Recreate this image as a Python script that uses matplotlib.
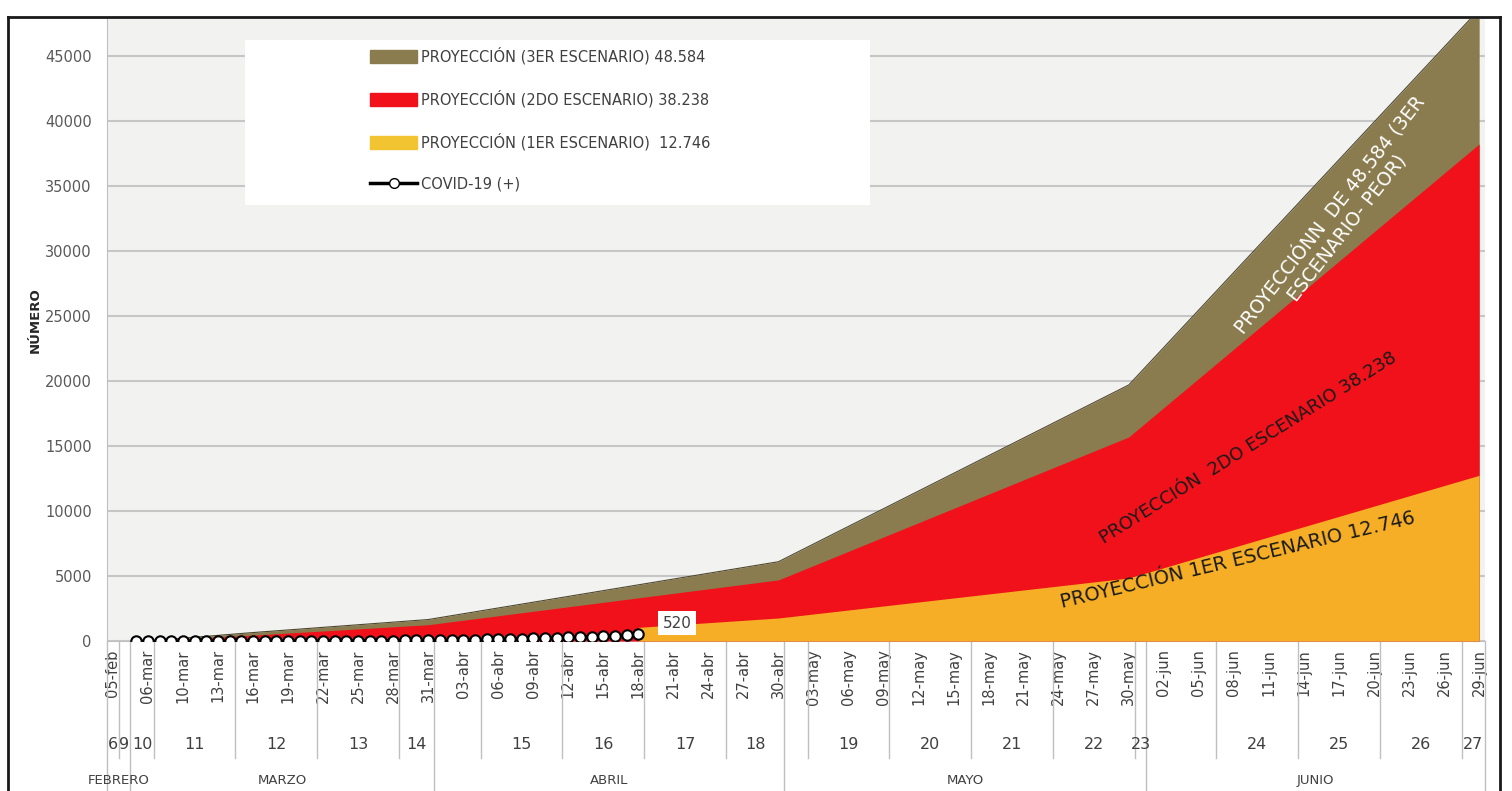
import matplotlib.pyplot as plt
from matplotlib.lines import Line2D
from matplotlib.patches import Patch, Rectangle
import pandas as pd

# categorias del eje x (fechas), semanas epidemiologicas y meses
fechas_previas = ['2020-02-05', '2020-02-26', '2020-03-03', '2020-03-06', '2020-03-08', '2020-03-09']
fechas = pd.to_datetime(fechas_previas).append(pd.date_range('2020-03-10', '2020-06-29'))
meses_abrev = {2: 'feb', 3: 'mar', 4: 'abr', 5: 'may', 6: 'jun'}
meses_nombre = {2: 'FEBRERO', 3: 'MARZO', 4: 'ABRIL', 5: 'MAYO', 6: 'JUNIO'}

# casos confirmados COVID-19 (+), diarios desde 03-mar hasta 18-abr
covid_inicio = '03-mar'
covid_casos = [0, 0, 0, 0, 0, 0, 0, 0, 0,
               1, 1, 2, 3, 4, 5, 7, 9, 12, 15, 18, 22, 27, 33, 40, 48, 56, 65, 75,
               88, 102, 118, 135, 155, 176, 198, 222, 250, 278, 310, 345, 380, 420,
               470, 520]

# proyecciones (vertices de cada area)
proy_fechas = ['06-mar', '16-mar', '31-mar', '30-abr', '30-may', '29-jun']
esc3 = [0, 650, 1650, 6100, 19700, 48584]
esc2 = [0, 450, 1250, 4700, 15700, 38238]
esc1_fechas = ['18-abr', '30-abr', '30-may', '29-jun']
esc1 = [1050, 1770, 4850, 12746]

col3 = '#8a7c4e'
col2 = '#f0111a'
col1 = '#f5ae25'
gris = '#bfbfbf'
texto = '#404040'
fuente_estrecha = ['Liberation Sans Narrow', 'DejaVu Sans']

etiquetas = [f"{d.day:02d}-{meses_abrev[d.month]}" for d in fechas]
pos = {e: i for i, e in enumerate(etiquetas)}
semanas = [(d + pd.Timedelta(days=1)).isocalendar()[1] for d in fechas]
n = len(etiquetas)

fig = plt.figure(figsize=(15.12, 7.91), dpi=100)
ax = fig.add_axes([107 / 1512, 150 / 791, 1378 / 1512, 622 / 791])
ax.set_facecolor('#f2f2f0')
ax.set_xlim(-0.5, n - 0.5)
ax.set_ylim(0, 47850)

# areas superpuestas
x3 = [pos[f] for f in proy_fechas]
ax.fill_between(x3, esc3, color=col3, lw=0, zorder=2)
ax.plot(x3, esc3, color='#4f4830', lw=0.8, zorder=2)
ax.fill_between(x3, esc2, color=col2, lw=0, zorder=3)
x1 = [pos[f] for f in esc1_fechas]
ax.fill_between(x1, esc1, color=col1, lw=0, zorder=4)

# serie real
xc = list(range(pos[covid_inicio], pos[covid_inicio] + len(covid_casos)))
ax.plot(xc, covid_casos, color='black', lw=2, marker='o', ms=7.5,
        mfc='white', mec='black', mew=1.5, zorder=6)
ax.annotate(str(covid_casos[-1]), (xc[-1], covid_casos[-1]), xytext=(28, 8),
            textcoords='offset points', ha='center', va='center', fontsize=11,
            color=texto, zorder=7,
            bbox=dict(boxstyle='square,pad=0.3', fc='white', ec='none'))

# textos sobre las areas
ax.text(96.3, 6230, 'PROYECCIÓN 1ER ESCENARIO 12.746', rotation=13.5,
        rotation_mode='anchor', ha='center', va='center', fontsize=14,
        color='#1a1a1a', zorder=8)
ax.text(97.2, 14850, 'PROYECCIÓN  2DO ESCENARIO 38.238', rotation=32,
        rotation_mode='anchor', ha='center', va='center', fontsize=13,
        color='#1a1a1a', zorder=8)
ax.text(104.9, 32300, 'PROYECCIÓNN  DE 48.584 (3ER\nESCENARIO- PEOR)', rotation=52,
        rotation_mode='anchor', ha='center', va='center', ma='center',
        fontsize=13.5, linespacing=1.1, color='white', zorder=8)

# eje y
ax.set_yticks(range(0, 45001, 5000))
ax.yaxis.grid(True, color='#c6c6c6', lw=1.5)
ax.set_axisbelow(True)
ax.tick_params(axis='y', length=0, pad=11, labelsize=10.5, labelcolor='#595959')
fig.text(35 / 1512, 1 - 320 / 791, 'NÚMERO', rotation=90, ha='center', va='center',
         fontsize=9.5, fontweight='bold', color='#262626')

# eje x: fechas cada 3 categorias
ax.set_xticks(range(0, n, 3))
ax.set_xticklabels(etiquetas[::3], rotation=90, fontsize=10.5, color=texto,
                   family=fuente_estrecha)
ax.tick_params(axis='x', length=0, pad=6)
for s in ['top', 'right']:
    ax.spines[s].set_visible(False)
for s in ['left', 'bottom']:
    ax.spines[s].set_color(gris)

# eje x: semanas y meses
tr = ax.get_xaxis_transform()
grupos = []
inicio = 0
for i in range(1, n + 1):
    if i == n or semanas[i] != semanas[inicio] or fechas[i].month != fechas[inicio].month:
        grupos.append((inicio, i - 1))
        inicio = i
sem_prev = None
for a, b in grupos:
    if semanas[a] != sem_prev:
        ax.text((a + b) / 2, -0.167, str(semanas[a]), transform=tr, ha='center',
                va='center', fontsize=11.5, color=texto, family=fuente_estrecha)
    sem_prev = semanas[a]
    cambio_mes = a == 0 or fechas[a].month != fechas[a - 1].month
    y_fin = -0.26 if cambio_mes else -0.188
    ax.plot([a - 0.5, a - 0.5], [0, y_fin], transform=tr, color=gris, lw=1,
            clip_on=False)
ax.plot([n - 0.5, n - 0.5], [0, -0.26], transform=tr, color=gris, lw=1, clip_on=False)

for m in sorted(set(f.month for f in fechas)):
    idx = [i for i, f in enumerate(fechas) if f.month == m]
    ax.text((idx[0] + idx[-1]) / 2, -0.224, meses_nombre[m], transform=tr,
            ha='center', va='center', fontsize=9.5, color=texto,
            family=fuente_estrecha)

# leyenda sobre recuadro blanco
ax.add_patch(Rectangle((0.100, 0.701), 0.454, 0.265, transform=ax.transAxes,
                       fc='white', ec='none', zorder=5))
handles = [Patch(color=col3), Patch(color='#f0111a'), Patch(color='#f3c431'),
           Line2D([], [], color='black', lw=2.5, marker='o', ms=7, mfc='white',
                  mec='black')]
labels = ['PROYECCIÓN (3ER ESCENARIO) 48.584', 'PROYECCIÓN (2DO ESCENARIO) 38.238',
          'PROYECCIÓN (1ER ESCENARIO)  12.746', 'COVID-19 (+)']
leg = ax.legend(handles, labels, loc='upper left', bbox_to_anchor=(0.191, 0.955),
                frameon=False, fontsize=10.5, labelspacing=1.75, handlelength=3.2,
                handleheight=0.9, handletextpad=0.3, borderpad=0, borderaxespad=0)
leg.set_zorder(9)
for t in leg.get_texts():
    t.set_color(texto)

# marco exterior
for xs, ys in [([8 / 1512, 8 / 1512], [0, 1 - 17 / 791]),
               ([8 / 1512, 1500 / 1512], [1 - 17 / 791, 1 - 17 / 791]),
               ([1500 / 1512, 1500 / 1512], [1 - 17 / 791, 0])]:
    fig.add_artist(Line2D(xs, ys, color='#1a1a1a', lw=2))

fig.savefig('out.png', dpi=100)
